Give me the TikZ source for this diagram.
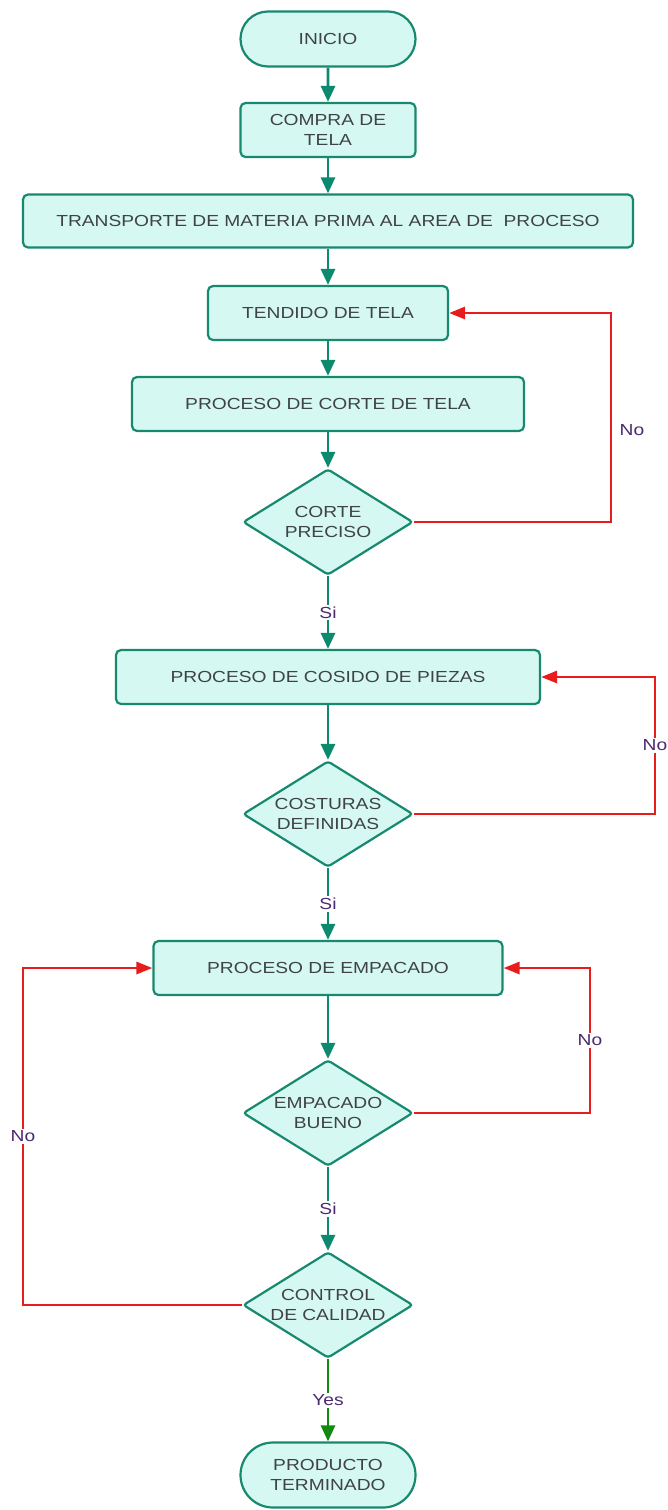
\documentclass[tikz,border=0pt]{standalone}
\usepackage{fontspec}
\setmainfont{Liberation Sans}[FakeStretch=1.2]
\usetikzlibrary{shapes.geometric,shapes.misc,arrows.meta}
\definecolor{boxfill}{HTML}{D6F8F2}
\definecolor{boxline}{HTML}{17896F}
\definecolor{flow}{HTML}{0B8A6E}
\definecolor{loopred}{HTML}{E81C1C}
\definecolor{lblpurple}{HTML}{4B2A72}
\definecolor{yesgreen}{HTML}{128A12}
\definecolor{txt}{HTML}{3F4345}
\tikzset{
  base/.style={draw=boxline, fill=boxfill, line width=2.2pt, text=txt,
    font=\fontsize{16}{20}\selectfont, align=center, inner sep=0pt},
  proc/.style={base, rectangle, rounded corners=5pt},
  term/.style={base, rounded rectangle, minimum width=175pt},
  decision/.style={base, diamond, aspect=1.6, minimum width=170pt,
    minimum height=106pt, rounded corners=3pt},
  flowline/.style={draw=flow, line width=2.9pt, -{Triangle[width=14pt,length=16pt]}},
  yesline/.style={draw=yesgreen, line width=2.9pt, -{Triangle[width=14pt,length=16pt]}},
  loopline/.style={draw=loopred, line width=2.9pt, -{Triangle[width=12pt,length=16pt]}},
  lbl/.style={text=lblpurple, font=\fontsize{16}{20}\selectfont, fill=white, inner sep=2pt},
}
\begin{document}
\begin{tikzpicture}[x=1pt, y=-1pt]
\useasboundingbox (0,0) rectangle (668,1510);

% process chain
\node[term, minimum height=55pt] (inicio) at (328,39) {INICIO};
\node[proc, minimum width=175pt, minimum height=54pt] (compra) at (328,130) {COMPRA DE\\TELA};
\node[proc, minimum width=610pt, minimum height=53pt] (transp) at (328,221) {TRANSPORTE DE MATERIA PRIMA AL AREA DE~~PROCESO};
\node[proc, minimum width=240pt, minimum height=54pt] (tendido) at (328,313) {TENDIDO DE TELA};
\node[proc, minimum width=392pt, minimum height=54pt] (corte) at (328,404) {PROCESO DE CORTE DE TELA};
\node[decision] (preciso) at (328,522) {CORTE\\PRECISO};
\node[proc, minimum width=424pt, minimum height=54pt] (cosido) at (328,677) {PROCESO DE COSIDO DE PIEZAS};
\node[decision] (costuras) at (328,814) {COSTURAS\\DEFINIDAS};
\node[proc, minimum width=349pt, minimum height=54pt] (empacado) at (328,968) {PROCESO DE EMPACADO};
\node[decision] (bueno) at (328,1113) {EMPACADO\\BUENO};
\node[decision] (calidad) at (328,1305) {CONTROL\\DE CALIDAD};
\node[term, minimum height=65pt] (fin) at (328,1475) {PRODUCTO\\TERMINADO};

% x positions of the return loops
\coordinate (r1) at (611,0);
\coordinate (r2) at (655,0);
\coordinate (r3) at (590,0);
\coordinate (l1) at (23,0);

% main flow
\draw[flowline] (inicio) -- (compra);
\draw[flowline] (compra) -- (transp);
\draw[flowline] (transp) -- (tendido);
\draw[flowline] (tendido) -- (corte);
\draw[flowline] (corte) -- (preciso);
\draw[flowline] (preciso) -- node[lbl] {Si} (cosido);
\draw[flowline] (cosido) -- (costuras);
\draw[flowline] (costuras) -- node[lbl] {Si} (empacado);
\draw[flowline] (empacado) -- (bueno);
\draw[flowline] (bueno) -- node[lbl] {Si} (calidad);
\draw[yesline] (calidad) -- node[lbl] {Yes} (fin);

% rework loops
\draw[loopline] (preciso.east) -- (preciso.east -| r1) -- (tendido.east -| r1) -- (tendido.east);
\node[lbl] (no1) at (632,430) {No};
\draw[loopline] (costuras.east) -- (costuras.east -| r2) -- node[lbl] {No} (cosido.east -| r2) -- (cosido.east);
\draw[loopline] (bueno.east) -- (bueno.east -| r3) -- node[lbl] {No} (empacado.east -| r3) -- (empacado.east);
\draw[loopline] (calidad.west) -- (calidad.west -| l1) -- node[lbl] {No} (empacado.west -| l1) -- (empacado.west);
\end{tikzpicture}
\end{document}
